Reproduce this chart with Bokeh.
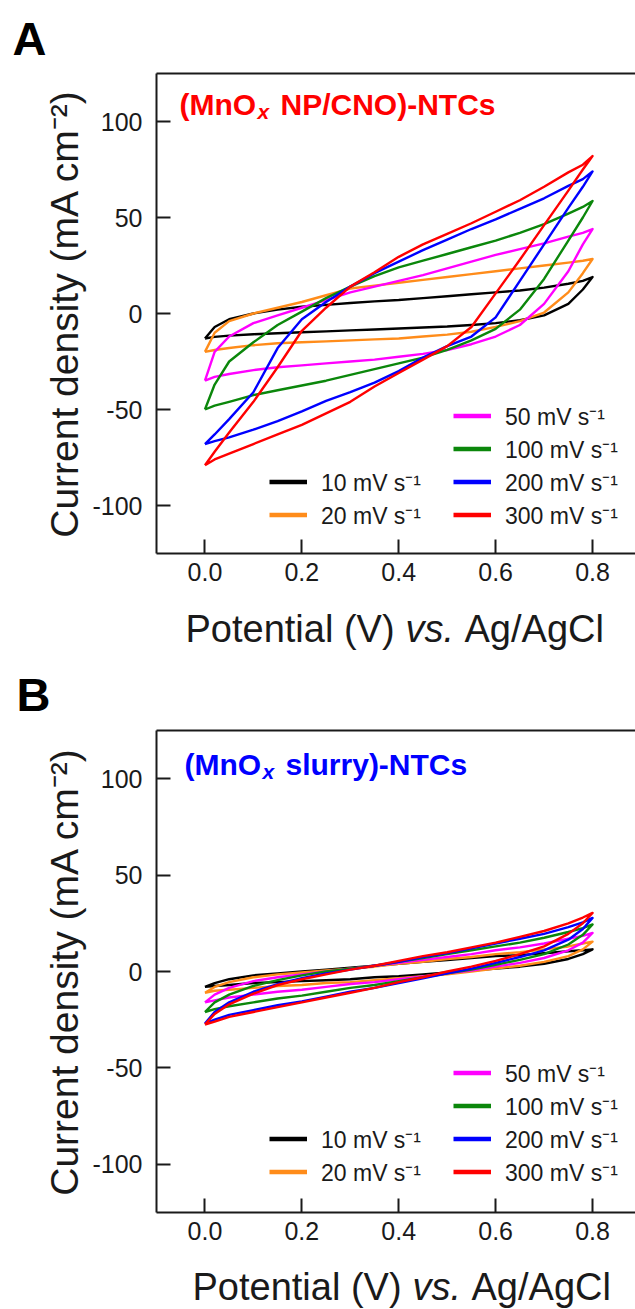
import numpy as np
from bokeh.plotting import figure
from bokeh.models import (Range1d, FixedTicker, LinearAxis, Label, Legend,
                          LegendItem, CustomJSTickFormatter)
from bokeh.layouts import column
from bokeh.embed import file_html
from bokeh.resources import INLINE

FONT = "Liberation Sans"
INK = "#1a1a1a"
LEFT = 156  # common frame left edge (frames in a column are aligned)

# ---------------- data ----------------
POTENTIAL_FWD = [0, 0.02, 0.05, 0.1, 0.15, 0.2, 0.25, 0.3, 0.35, 0.4, 0.45,
                 0.5, 0.55, 0.6, 0.65, 0.7, 0.75, 0.78, 0.8]
POTENTIAL_REV = [0.8, 0.78, 0.75, 0.7, 0.65, 0.6, 0.55, 0.5, 0.45, 0.4, 0.35,
                 0.3, 0.25, 0.2, 0.15, 0.1, 0.05, 0.02, 0]

SCAN_RATES = ["10 mV s\u207b\u00b9", "20 mV s\u207b\u00b9", "50 mV s\u207b\u00b9",
              "100 mV s\u207b\u00b9", "200 mV s\u207b\u00b9", "300 mV s\u207b\u00b9"]
COLORS = ["#000000", "#ff8c1a", "#ff00ff", "#0b870b", "#0000ff", "#ff0000"]

X_TICKS = [0.0, 0.2, 0.4, 0.6, 0.8]
Y_TICKS = [-100, -50, 0, 50, 100]

# Panel A: (MnOx NP/CNO)-NTCs  (mA cm^-2)
A_10_FWD = [-13, -7, -3, 0, 2, 3.5, 4.5, 5.5, 6.3, 7, 8, 9, 10, 11, 12, 13.5, 15.5, 17, 19]
A_10_REV = [19, 12.5, 5, -1, -3.5, -5, -6, -6.8, -7.3, -7.8, -8.3, -8.8, -9.3, -9.8, -10.3, -10.8, -11.5, -12.2, -13]
A_20_FWD = [-20, -10, -4, 0, 3, 6, 9.5, 13, 14.5, 16, 17.5, 19, 20.5, 22, 23.5, 25, 26.5, 27.5, 28.4]
A_20_REV = [28.4, 21, 11, 0.5, -4, -7, -9.5, -11, -12, -13, -13.5, -14, -14.5, -15, -15.5, -16.5, -18, -19, -20]
A_50_FWD = [-35, -20, -12, -5, -1, 3, 7, 11, 14, 17, 20, 23.5, 27, 30.5, 33.5, 36.5, 40, 42, 44]
A_50_REV = [44, 36, 22, 5, -6, -12, -16, -19, -21, -22.5, -24, -25, -26, -27, -28, -29.5, -31.5, -33, -35]
A_100_FWD = [-50, -37, -25, -15, -6, 1, 8, 14, 19.5, 24, 27.5, 31, 34.5, 38, 42, 46.5, 52, 55.5, 58.6]
A_100_REV = [58.6, 50, 38, 18, 2, -8, -14, -19, -23, -26, -29, -32, -35, -37.5, -40, -42.5, -46, -48, -50]
A_200_FWD = [-68, -63, -55, -41, -18, -3, 6, 14, 21, 27, 33, 38.5, 44, 49, 54.5, 60, 66.5, 70, 74]
A_200_REV = [74, 66, 55, 36, 17, -2, -12, -17, -23, -30, -36, -41, -45.5, -51, -56, -60.5, -64.5, -66.5, -68]
A_300_FWD = [-79, -72, -62, -46, -28, -9, 3, 14, 21.5, 29.5, 36, 41.5, 47, 53, 59, 66, 73.5, 77.5, 82]
A_300_REV = [82, 75, 64, 46, 28, 10.5, -7, -17, -24, -31, -38, -46, -52, -58, -63, -68, -73, -76, -79]

# Panel B: (MnOx slurry)-NTCs
B_10_FWD = [-8, -6, -4, -2, -1, 0, 1, 2, 3, 4, 5, 6, 7, 8, 8.5, 9.5, 10.5, 11, 11.5]
B_10_REV = [11.5, 9, 6.5, 4, 2.5, 1.5, 0.5, -0.5, -1.5, -2.5, -3, -4, -4.5, -5, -5.5, -6, -7, -7.5, -8]
B_20_FWD = [-11, -8, -5.5, -3, -1.5, -0.5, 0.5, 1.5, 2.5, 4, 5, 6.5, 7.5, 9, 10, 11.5, 13, 14.5, 15.5]
B_20_REV = [15.5, 11.5, 8, 5, 3, 1.5, 0, -1.5, -2.5, -3.5, -4.5, -5.5, -6, -7, -7.5, -8.5, -9.5, -10, -11]
B_50_FWD = [-16, -12, -8.5, -5, -3, -1.5, 0, 1.5, 3, 4.5, 6, 7.5, 9, 11, 12.5, 14.5, 17, 18.5, 20]
B_50_REV = [20, 15, 11, 7, 4.5, 2.5, 0.5, -1, -2.5, -4, -5.5, -6.5, -8, -9.5, -10.5, -12, -13.5, -15, -16]
B_100_FWD = [-21, -16, -12, -7.5, -4.5, -2, 0, 1.5, 3, 5, 7, 9, 11, 13, 15, 17.5, 20.5, 22.5, 24.4]
B_100_REV = [24.4, 19, 14, 9, 6, 3.5, 1, -1, -3, -5, -7, -8.5, -10.5, -12.5, -14, -16, -18, -19.5, -21]
B_200_FWD = [-27, -21, -16, -10.5, -6.5, -3.5, -1, 1, 3, 5, 7.5, 9.5, 12, 14.5, 17, 19.5, 23, 25.5, 27.8]
B_200_REV = [27.8, 22, 16.5, 11, 7.5, 4.5, 1.5, -1, -3.5, -6, -8.5, -10.5, -13, -15.5, -17.5, -20, -22.5, -25, -27]
B_300_FWD = [-27.5, -22, -17, -11.5, -7, -4, -1.5, 1, 3, 5.5, 8, 10, 12.5, 15, 18, 21, 25, 28, 30.4]
B_300_REV = [30.4, 25, 19.5, 13, 9, 5.5, 2.5, 0, -3, -5.5, -8.5, -11, -13.5, -16, -18.5, -21, -23.5, -26, -27.5]

A_SERIES = [(A_10_FWD, A_10_REV), (A_20_FWD, A_20_REV), (A_50_FWD, A_50_REV),
            (A_100_FWD, A_100_REV), (A_200_FWD, A_200_REV), (A_300_FWD, A_300_REV)]
B_SERIES = [(B_10_FWD, B_10_REV), (B_20_FWD, B_20_REV), (B_50_FWD, B_50_REV),
            (B_100_FWD, B_100_REV), (B_200_FWD, B_200_REV), (B_300_FWD, B_300_REV)]


def screen_label(text, x, y, size, style="normal", color=INK):
    return Label(x=x, y=y, x_units="screen", y_units="screen", text=text,
                 text_font=FONT, text_font_size=size, text_font_style=style,
                 text_color=color, text_baseline="alphabetic")


def xlabel_strip(height, x0, y):
    s = figure(width=635, height=height, x_range=Range1d(0, 1), y_range=Range1d(0, 1),
               x_axis_type=None, y_axis_type=None, output_backend="svg",
               toolbar_location=None, min_border_left=LEFT, min_border_right=0,
               min_border_top=0, min_border_bottom=0)
    s.outline_line_color = None
    s.background_fill_color = "white"
    s.border_fill_color = "white"
    s.add_layout(screen_label("Potential (V)", x0, y, "38px"))
    s.add_layout(screen_label("vs.", x0 + 220, y, "38px", "italic"))
    s.add_layout(screen_label("Ag/AgCl", x0 + 279, y, "38px"))
    return s


def build(letter, letter_offset, letter_standoff, title_b, title_color, series, height,
          top, bottom, title_pos, leg_right_x, leg_left_x, leg_y):
    frame_w = 635 - LEFT
    x_end = -0.1 + frame_w / 484.5
    p = figure(width=635, height=height, x_range=Range1d(-0.1, x_end),
               y_range=Range1d(-125, 125), output_backend="svg",
               toolbar_location=None, min_border_left=LEFT, min_border_right=0,
               min_border_top=top, min_border_bottom=bottom)
    p.outline_line_color = None
    p.grid.visible = False
    p.background_fill_color = "white"
    p.border_fill_color = "white"

    p.title.text = letter
    p.title.text_font = FONT
    p.title.text_font_size = "47px"
    p.title.text_font_style = "bold"
    p.title.text_color = "black"
    p.title.align = "left"
    p.title.offset = letter_offset
    p.title.standoff = letter_standoff

    for ax in (p.xaxis[0], p.yaxis[0]):
        ax.axis_line_width = 2
        ax.axis_line_color = INK
        ax.major_tick_line_width = 2
        ax.major_tick_line_color = INK
        ax.major_tick_in = 14
        ax.major_tick_out = 0
        ax.minor_tick_line_color = None
        ax.major_label_text_font = FONT
        ax.major_label_text_font_size = "25px"
        ax.major_label_text_color = INK

    p.xaxis.ticker = FixedTicker(ticks=X_TICKS)
    p.xaxis.formatter = CustomJSTickFormatter(code="return tick.toFixed(1)")
    p.xaxis.major_label_standoff = 9
    p.yaxis.ticker = FixedTicker(ticks=Y_TICKS)
    p.yaxis.formatter = CustomJSTickFormatter(code="return tick.toFixed(0)")
    p.yaxis.major_label_standoff = 14
    p.yaxis.axis_label = "Current density (mA cm\u207b\u00b2)"
    p.yaxis.axis_label_text_font = FONT
    p.yaxis.axis_label_text_font_size = "39px"
    p.yaxis.axis_label_text_font_style = "normal"
    p.yaxis.axis_label_text_color = INK
    p.yaxis.axis_label_standoff = 3

    top_axis = LinearAxis(ticker=FixedTicker(ticks=[]), axis_line_width=2,
                          axis_line_color=INK, major_tick_line_color=None,
                          minor_tick_line_color=None, major_label_text_font_size="0px",
                          major_label_standoff=0, major_tick_out=0, major_tick_in=0)
    p.add_layout(top_axis, "above")

    legend_renderers = []
    for (fwd, rev), color in zip(series, COLORS):
        p.line(POTENTIAL_FWD + POTENTIAL_REV, fwd + rev, line_color=color,
               line_width=2.4, line_join="round")
        lr = p.line(np.array([np.nan]), np.array([np.nan]), line_color=color, line_width=4.5)
        legend_renderers.append(lr)

    def make_legend(idx, x):
        leg = Legend(items=[LegendItem(label=SCAN_RATES[i], renderers=[legend_renderers[i]]) for i in idx],
                     location=(x, leg_y), border_line_color=None, background_fill_alpha=0,
                     padding=0, margin=0, spacing=0, glyph_width=38, glyph_height=33,
                     label_height=33, label_standoff=14, label_text_font=FONT,
                     label_text_font_size="23px", label_text_color=INK)
        p.add_layout(leg)

    make_legend([2, 3, 4, 5], leg_right_x)
    make_legend([0, 1], leg_left_x)

    tx, ty = title_pos
    p.add_layout(screen_label("(MnO", tx, ty, "30px", "bold", title_color))
    p.add_layout(screen_label("x", tx + 78, ty - 7, "21px", "bold italic", title_color))
    p.add_layout(screen_label(title_b, tx + 101, ty, "30px", "bold", title_color))
    return p


# canvas rows: 0-600 panel A | 600-655 x label A | 655-1260 panel B | 1260-1309 x label B
pA = build("A", 12 - LEFT, 18, "NP/CNO)-NTCs", "#ff0000", A_SERIES, 600, 72, 47,
           (23, 449), 297, 113, 22)
stripA = xlabel_strip(55, 185 - LEFT, 27)
pB = build("B", 16 - LEFT, 20, "slurry)-NTCs", "#0000ff", B_SERIES, 605, 74, 48,
           (28, 448), 297, 113, 24)
stripB = xlabel_strip(49, 192 - LEFT, 23)

layout = column(pA, stripA, pB, stripB, spacing=0)
open("out.html", "w").write(file_html(layout, INLINE))
